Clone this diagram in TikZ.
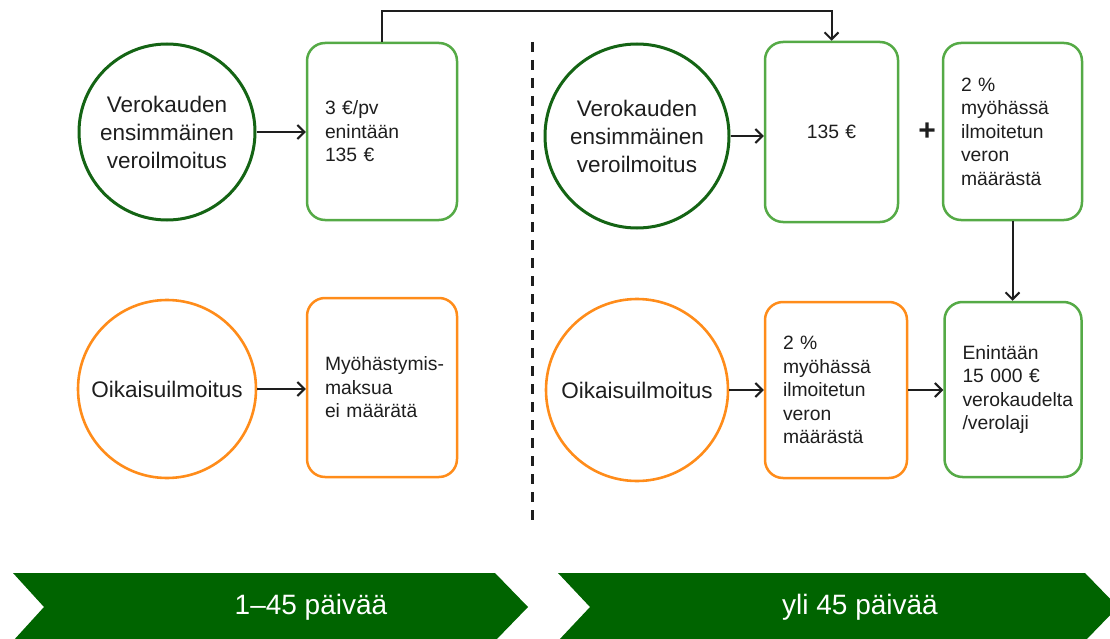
\documentclass[tikz,border=0pt]{standalone}
\usepackage{fontspec}
\setmainfont{Liberation Sans}
\usetikzlibrary{arrows.meta}
\definecolor{circgreen}{RGB}{20,100,20}
\definecolor{boxgreen}{RGB}{85,170,70}
\definecolor{orng}{RGB}{255,140,26}
\definecolor{chev}{RGB}{0,100,0}
\definecolor{txt}{RGB}{30,30,30}
\begin{document}
\begin{tikzpicture}[x=1pt,y=-1pt,
  circbase/.style={circle, line width=3pt, inner sep=0pt, align=center,
    font=\fontsize{22.5}{28}\selectfont, text=txt},
  gcirc/.style={circbase, draw=circgreen},
  ocirc/.style={circbase, draw=orng, line width=2.6pt},
  boxbase/.style={rectangle, rounded corners=18pt, line width=2.5pt,
    inner xsep=18pt, inner ysep=0pt, align=left, text=txt,
    font=\fontsize{19.3}{23.5}\selectfont},
  gbox/.style={boxbase, draw=boxgreen},
  obox/.style={boxbase, draw=orng},
  conn/.style={line width=2pt, draw=txt, -{Straight Barb[length=7pt,width=14pt,line width=2pt]}},
  chevshape/.style={fill=chev, draw=none},
  chevtext/.style={text=white, font=\fontsize{28}{30}\selectfont},
  dashline/.style={line width=3pt, draw=txt, dash pattern=on 10pt off 8pt}
]
\useasboundingbox (0,0) rectangle (1110,639);
\clip (0,0) rectangle (1110,639);

% left column
\node[gcirc, minimum size=176pt] (c1) at (167,132) {Verokauden\\ensimmäinen\\veroilmoitus};
\node[gbox, minimum height=177pt, text width=114pt] (b1) at (382,131.5) {3 €/pv\\enintään\\135 €};
\node[ocirc, minimum size=178pt] (c3) at (167,389) {Oikaisuilmoitus};
\node[obox, minimum height=179pt, text width=114pt] (b3) at (382,387.5) {\mbox{Myöhästymis-}\\maksua\\ei määrätä};

% right column
\node[gcirc, minimum size=184pt] (c2) at (637,136) {Verokauden\\ensimmäinen\\veroilmoitus};
\node[gbox, minimum height=180pt, text width=97pt, align=center] (b2) at (831.5,132) {135 €};
\node[font=\bfseries\fontsize{30}{30}\selectfont, text=txt] (plus) at (927,132) {+};
\node[gbox, minimum height=177pt, text width=103pt] (b4) at (1012.5,131.5) {2 \%\\myöhässä\\ilmoitetun\\veron\\määrästä};
\node[ocirc, minimum size=182pt] (c4) at (637,390) {Oikaisuilmoitus};
\node[obox, minimum height=176pt, text width=106pt] (b5) at (836,390) {2 \%\\myöhässä\\ilmoitetun\\veron\\määrästä};
\node[gbox, minimum height=175pt, text width=101pt] (b6) at (1013,389.5) {Enintään\\15 000 €\\\mbox{verokaudelta}\\/verolaji};

% connectors
\draw[conn] (c1.east) -- (c1.east -| b1.west);
\draw[conn] (c3.east) -- (c3.east -| b3.west);
\draw[conn] (c2.east) -- (c2.east -| b2.west);
\draw[conn] (c4.east) -- (c4.east -| b5.west);
\draw[conn] (b5.east) -- (b5.east -| b6.west);
\draw[conn] (b4.south) -- (b4.south |- b6.north);
\draw[conn] (b1.north) -- ++(0,-31) -| (b2.north);

% divider
\draw[dashline] (532,42) -- (532,520);

% chevrons
\path[chevshape] (13,573) -- (495,573) -- (528,607) -- (495,641) -- (13,641) -- (44,607) -- cycle;
\path[chevshape] (558,573) -- (1085,573) -- (1118,607) -- (1085,641) -- (558,641) -- (590,607) -- cycle;
\node[chevtext] (t1) at (311,607) {1–45 päivää};
\node[chevtext] (t2) at (860,607) {yli 45 päivää};
\end{tikzpicture}
\end{document}
